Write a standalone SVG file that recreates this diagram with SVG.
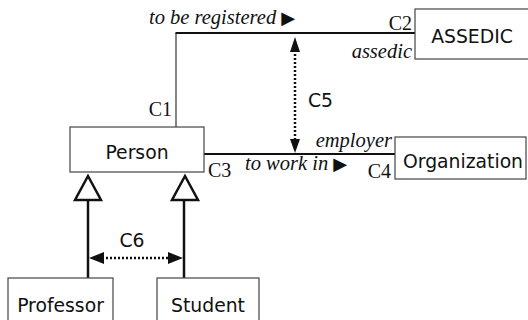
<svg xmlns="http://www.w3.org/2000/svg" width="528" height="320" viewBox="0 0 528 320">
<defs>
<style>
.box{fill:#fff;stroke:#444;stroke-width:1.2}
.lbl{font-family:"DejaVu Sans","Liberation Sans",sans-serif;font-size:18.8px;fill:#111}
.ser{font-family:"Liberation Serif","Times New Roman",serif;font-size:20px;fill:#111}
.it{font-style:italic;font-size:20.5px}
.sym{font-family:"DejaVu Sans",sans-serif;font-style:normal;font-size:18px}
.assoc{fill:none;stroke:#111;stroke-width:2}
.thin{fill:none;stroke:#333;stroke-width:1.2}
.gen{fill:none;stroke:#111;stroke-width:2.5}
.tri{fill:#fff;stroke:#111;stroke-width:2.5;stroke-linejoin:miter}
.dot{fill:none;stroke:#111;stroke-width:2.5;stroke-dasharray:2 2}
.head{fill:#111;stroke:none}
</style>
</defs>
<g id="connectors">
<polyline class="thin" points="176,127 176,33"/>
<line class="assoc" x1="175.5" y1="33" x2="415" y2="33"/>
<line class="assoc" x1="202" y1="154" x2="395" y2="154"/>
<line class="dot" x1="295" y1="50" x2="295" y2="142"/>
<polygon class="head" points="295,37 290,52 300,52"/>
<polygon class="head" points="295,153 290,139 300,139"/>
<line class="gen" x1="88" y1="200" x2="88" y2="278"/>
<line class="gen" x1="184" y1="200" x2="184" y2="278"/>
<polygon class="tri" points="88,176 75,200 101,200"/>
<polygon class="tri" points="185,176 172,200 198,200"/>
<line class="dot" x1="102" y1="258" x2="170" y2="258"/>
<polygon class="head" points="89,258 104,252 104,264"/>
<polygon class="head" points="183,258 168,252 168,264"/>
<text class="ser it" x="149" y="24">to be registered <tspan class="sym">▶</tspan></text>
<text class="ser" x="412" y="30" text-anchor="end">C2</text>
<text class="ser it" x="412" y="58" text-anchor="end">assedic</text>
<text class="ser" x="172" y="116" text-anchor="end">C1</text>
<text class="lbl" x="308" y="107">C5</text>
<text class="ser it" x="392" y="147" text-anchor="end">employer</text>
<text class="ser it" x="245" y="170">to work in <tspan class="sym">▶</tspan></text>
<text class="ser" x="208" y="177">C3</text>
<text class="ser" x="391" y="178" text-anchor="end">C4</text>
<text class="lbl" x="132" y="247" text-anchor="middle">C6</text>
</g>
<g id="person">
<rect class="box" x="70" y="127" width="134" height="45"/>
<text class="lbl" x="137" y="159" text-anchor="middle">Person</text>
</g>
<g id="assedic">
<rect class="box" x="415" y="9" width="120" height="50"/>
<text class="lbl" x="472" y="43" text-anchor="middle">ASSEDIC</text>
</g>
<g id="organization">
<rect class="box" x="395" y="137" width="131" height="42"/>
<text class="lbl" x="463" y="168" text-anchor="middle">Organization</text>
</g>
<g id="professor">
<rect class="box" x="8" y="278" width="105" height="50"/>
<text class="lbl" x="60.5" y="312" text-anchor="middle">Professor</text>
</g>
<g id="student">
<rect class="box" x="157" y="278" width="102" height="50"/>
<text class="lbl" x="208" y="312" text-anchor="middle">Student</text>
</g>
</svg>
